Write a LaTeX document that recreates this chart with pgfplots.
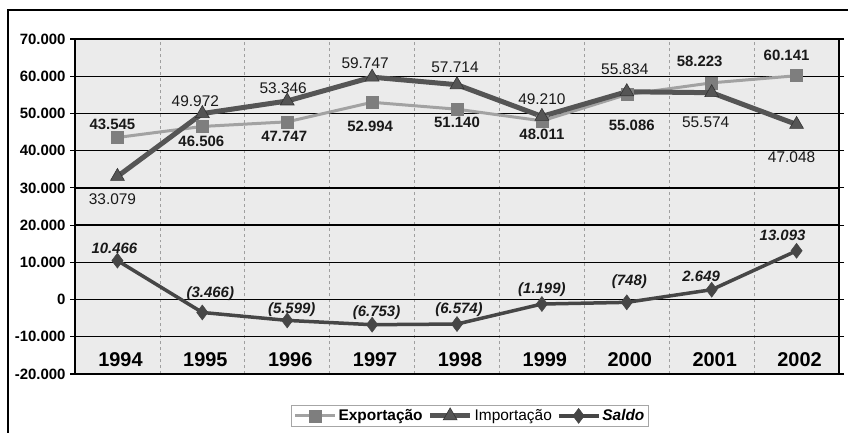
\documentclass[border=0pt]{standalone}
\usepackage{pgfplots}
\pgfplotsset{compat=1.18}
\usepackage{fontspec}
\setmainfont{Liberation Sans}
\definecolor{expline}{HTML}{A2A2A2}
\definecolor{expmark}{HTML}{7E7E7E}
\definecolor{impcol}{HTML}{555555}
\definecolor{salcol}{HTML}{464646}
\definecolor{bgcol}{HTML}{EBEBEB}
\pgfplotstableread{
x exp imp sal
0 43545 33079 10466
1 46506 49972 -3466
2 47747 53346 -5599
3 52994 59747 -6753
4 51140 57714 -6574
5 48011 49210 -1199
6 55086 55834 -748
7 58223 55574 2649
8 60141 47048 13093
}\datatable
% label tables: x, y (data value), label, dx, dy (offset of label centre, bp)
\pgfplotstableread{
x y l dx dy
0 43545 43.545 -5 13.5
1 46506 46.506 -1 -15
2 47747 47.747 -3 -15
3 52994 52.994 -2 -24
4 51140 51.140 0 -13.5
5 48011 48.011 0 -13.5
6 55086 55.086 5 -30.5
7 58223 58.223 -12 21
8 60141 60.141 -10 20.5
}\explab
\pgfplotstableread{
x y l dx dy
0 33079 33.079 -5 -22.5
1 49972 49.972 -7 12.5
2 53346 53.346 -4 13.3
3 59747 59.747 -7 14
4 57714 57.714 -2 17
5 49210 49.210 0 17.3
6 55834 55.834 -2 22.4
7 55574 55.574 -6 -30
8 47048 47.048 -5 -32.3
}\implab
\pgfplotstableread{
x y l dx dy
0 10466 10.466 -3 12.3
1 -3466 (3.466) 8 19
2 -5599 (5.599) 4.5 10.4
3 -6753 (6.753) 4.5 12.4
4 -6574 (6.574) 2 14
5 -1199 (1.199) 0 14.7
6 -748 (748) 2.6 20.6
7 2649 2.649 -10.5 13.7
8 13093 13.093 -14 15.8
}\sallab
\begin{document}
\begin{tikzpicture}[x=1bp,y=1bp]
\useasboundingbox (0,0) rectangle (848,432);
\draw[line width=1.5bp,black] (8,-20) -- (8,422) -- (870,422);
\begin{axis}[
  at={(75bp,58bp)}, anchor=south west,
  scale only axis, width=764bp, height=335bp,
  xmin=-0.5, xmax=8.5, ymin=-20000, ymax=70000,
  scaled y ticks=false,
  xtick={0,...,8},
  xticklabels={1994,1995,1996,1997,1998,1999,2000,2001,2002},
  xticklabel style={font=\bfseries\fontsize{20}{20}\selectfont, anchor=center, yshift=19bp, xshift=3bp},
  minor xtick={0.5,1.5,...,7.5},
  xminorgrids,
  minor grid style={dashed, gray!75, line width=0.6bp},
  x tick style={draw=none},
  minor x tick style={draw=none},
  ytick={-20000,-10000,...,70000},
  yticklabels={-20.000,-10.000,0,10.000,20.000,30.000,40.000,50.000,60.000,70.000},
  yticklabel style={font=\bfseries\fontsize{15}{15}\selectfont, xshift=-1bp},
  y tick style={black, line width=1.2bp},
  tick align=outside, major tick length=5bp,
  ymajorgrids,
  major grid style={black, line width=1.3bp},
  axis line style={black, line width=1.5bp},
  axis background/.style={fill=bgcol},
  legend style={at={(0.517,-0.125)}, anchor=center, legend columns=-1,
    draw=gray!70, line width=0.8bp, fill=white, inner sep=2bp,
    font=\fontsize{15.5}{15.5}\selectfont,
    /tikz/every even column/.append style={column sep=3bp}},
  legend image code/.code={\draw[mark repeat=2,mark phase=2,#1] plot coordinates {(0bp,0bp) (20bp,0bp) (40bp,0bp)};},
  clip=false,
  lab/.style={forget plot, draw=none, no markers, nodes near coords, point meta=explicit symbolic,
    visualization depends on={\thisrow{dx} \as \ldx},
    visualization depends on={\thisrow{dy} \as \ldy},
    nodes near coords style={anchor=center, inner sep=0pt, xshift=\ldx bp, yshift=\ldy bp, text=black!90}},
]
\addplot[expline, line width=3bp, mark=square*, mark size=6bp, mark options={fill=expmark, draw=expmark, line width=0.5bp}] table[x=x, y=exp] {\datatable};
\addlegendentry{\textbf{Exportação}}
\addplot[impcol, line width=5bp, mark=triangle*, mark size=8bp, mark options={fill=impcol, draw=black!80, line width=0.6bp}] table[x=x, y=imp] {\datatable};
\addlegendentry{Importação}
\addplot[salcol, line width=3.5bp, mark=diamond*, mark size=7.5bp, mark options={fill=salcol, draw=salcol, line width=0.5bp}] table[x=x, y=sal] {\datatable};
\addlegendentry{\textbf{\textit{Saldo}}}
\addplot[lab, nodes near coords style={font=\bfseries\fontsize{15}{15}\selectfont}] table[x=x, y=y, meta=l] {\explab};
\addplot[lab, nodes near coords style={font=\fontsize{15.5}{15.5}\selectfont}] table[x=x, y=y, meta=l] {\implab};
\addplot[lab, nodes near coords style={font=\bfseries\itshape\fontsize{15}{15}\selectfont}] table[x=x, y=y, meta=l] {\sallab};
\end{axis}
\end{tikzpicture}
\end{document}
